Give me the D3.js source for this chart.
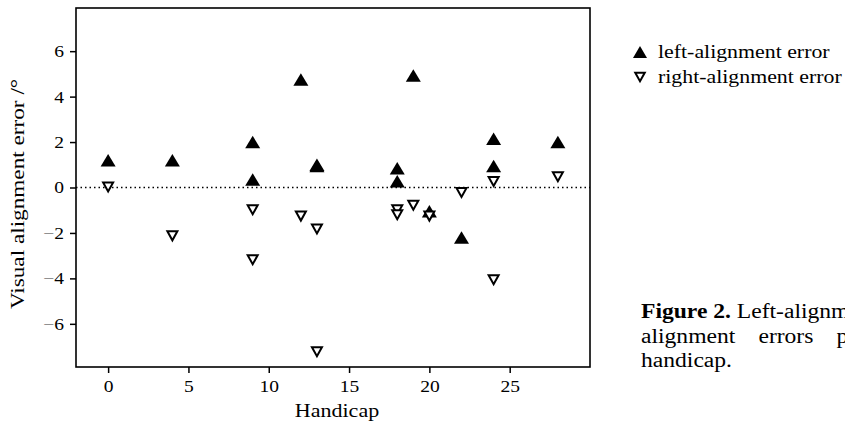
<!DOCTYPE html>
<html>
<head>
<meta charset="utf-8">
<script src="https://cdn.jsdelivr.net/npm/d3@7"></script>
<style>
    body { margin: 0; background: #fff; }
    svg { display: block; }
    text { font-family: "Liberation Serif", "Times New Roman", serif; fill: #000; }
</style>
</head>
<body>
<script>
// values
const leftHandicap = [0, 4, 9, 9, 12, 13, 13, 18, 18, 19, 20, 22, 24, 24, 28];
const leftError = [1.2, 1.2, 2.0, 0.35, 4.75, 1.0, 0.95, 0.85, 0.28, 4.93, -1.05, -2.2, 2.15, 0.95, 2.0];

const rightHandicap = [0, 4, 9, 9, 12, 13, 13, 18, 18, 19, 20, 22, 24, 24, 28];
const rightError = [0.0, -2.15, -1.0, -3.2, -1.28, -1.85, -7.25, -1.0, -1.22, -0.8, -1.28, -0.24, 0.24, -4.08, 0.45];

const xTicks = [0, 5, 10, 15, 20, 25];
const yTicks = [-6, -4, -2, 0, 2, 4, 6];
const legendLabels = ["left-alignment error", "right-alignment error"];
const captionLines = [
    ["Figure 2.", " Left-alignment and right-"],
    ["", "alignment errors plotted against"],
    ["", "handicap."]
];

const width = 845, height = 424;
const plot = { left: 76, right: 590, top: 8, bottom: 367 };

const svg = d3.select("body").append("svg")
    .attr("width", width)
    .attr("height", height);

const x = d3.scaleLinear().domain([-2, 30]).range([plot.left, plot.right]);
const y = d3.scaleLinear().domain([-7.9, 7.9]).range([plot.bottom, plot.top]);

// the type in the figure is wider than Liberation Serif, so stretch it a bit
function stretch(sel, k) {
    sel.each(function () {
        const len = this.getComputedTextLength();
        d3.select(this)
            .attr("textLength", len * k)
            .attr("lengthAdjust", "spacingAndGlyphs");
    });
}

function upTri(w, h) {
    return `M0,${-h / 2}L${w / 2},${h / 2}L${-w / 2},${h / 2}Z`;
}
function downTri(w, h) {
    return `M${-w / 2},${-h / 2}L${w / 2},${-h / 2}L0,${h / 2}Z`;
}

// dotted zero line
svg.append("line")
    .attr("x1", plot.left).attr("x2", plot.right)
    .attr("y1", y(0)).attr("y2", y(0))
    .attr("stroke", "#000")
    .attr("stroke-width", 1.5)
    .attr("stroke-dasharray", "1.5,3");

// axes
const minusFmt = d => d < 0 ? "\u2212" + (-d) : String(d);

const gx = svg.append("g")
    .attr("transform", `translate(0,${plot.bottom})`)
    .call(d3.axisBottom(x).tickValues(xTicks).tickSize(6).tickSizeOuter(0).tickFormat(minusFmt));

const gy = svg.append("g")
    .attr("transform", `translate(${plot.left},0)`)
    .call(d3.axisLeft(y).tickValues(yTicks).tickSize(6).tickSizeOuter(0).tickFormat(minusFmt));

[gx, gy].forEach(g => {
    g.select(".domain").remove();
    g.selectAll(".tick line").attr("stroke", "#000").attr("stroke-width", 1.5);
    g.selectAll(".tick text")
        .attr("font-family", null)
        .style("font-size", "16px")
        .attr("fill", null);
});
gx.selectAll(".tick text").attr("y", 25).attr("dy", 0);
gy.selectAll(".tick text").attr("x", -12).attr("dy", "0.34em");

// grey minus signs like in the scan
gy.selectAll(".tick text").each(function (d) {
    if (d < 0) {
        const t = d3.select(this).text("");
        t.append("tspan").style("fill", "#777").text("\u2212");
        t.append("tspan").text(-d);
    }
});
stretch(gx.selectAll(".tick text"), 1.22);
stretch(gy.selectAll(".tick text"), 1.22);

// frame
svg.append("rect")
    .attr("x", plot.left).attr("y", plot.top)
    .attr("width", plot.right - plot.left)
    .attr("height", plot.bottom - plot.top)
    .attr("fill", "none")
    .attr("stroke", "#000")
    .attr("stroke-width", 1.6);

// axis titles
const xTitle = svg.append("text")
    .attr("x", 337).attr("y", 417)
    .attr("text-anchor", "middle")
    .style("font-size", "18.5px")
    .text("Handicap");
stretch(xTitle, 1.19);

const yTitle = svg.append("text")
    .attr("transform", "translate(23.5,194) rotate(-90)")
    .attr("text-anchor", "middle")
    .style("font-size", "19.5px")
    .text("Visual alignment error /\u00b0");
stretch(yTitle, 1.19);

// left-alignment (filled, pointing up)
svg.append("g").selectAll("path")
    .data(leftHandicap.map((h, i) => [h, leftError[i]]))
    .enter().append("path")
    .attr("transform", d => `translate(${x(d[0])},${y(d[1])})`)
    .attr("d", upTri(15, 12.5))
    .attr("fill", "#000");

// right-alignment (open, pointing down)
svg.append("g").selectAll("path")
    .data(rightHandicap.map((h, i) => [h, rightError[i]]))
    .enter().append("path")
    .attr("transform", d => `translate(${x(d[0])},${y(d[1]) - 0.5})`)
    .attr("d", downTri(10, 9))
    .attr("fill", "#fff")
    .attr("stroke", "#000")
    .attr("stroke-width", 2);

// legend
const legend = svg.append("g");
legend.append("path")
    .attr("transform", "translate(640,52)")
    .attr("d", upTri(14, 12))
    .attr("fill", "#000");
legend.append("path")
    .attr("transform", "translate(640,77)")
    .attr("d", downTri(9.5, 8.5))
    .attr("fill", "#fff")
    .attr("stroke", "#000")
    .attr("stroke-width", 2);
legend.selectAll("text")
    .data(legendLabels)
    .enter().append("text")
    .attr("x", 658)
    .attr("y", (d, i) => 58 + i * 25)
    .style("font-size", "19.5px")
    .text(d => d)
    .call(stretch, 1.12);

// caption (justified in the source, so the middle line gets wide word gaps)
const captionBaselines = [318, 343, 367];
captionLines.forEach((parts, i) => {
    const t = svg.append("text")
        .attr("x", 641)
        .attr("y", captionBaselines[i])
        .style("font-size", "20.5px");
    if (parts[0]) t.append("tspan").style("font-weight", "bold").text(parts[0]);
    t.append("tspan").text(parts[1]);
    if (i === 1) t.attr("word-spacing", "15px");
    stretch(t, 1.15);
});
</script>
</body>
</html>
